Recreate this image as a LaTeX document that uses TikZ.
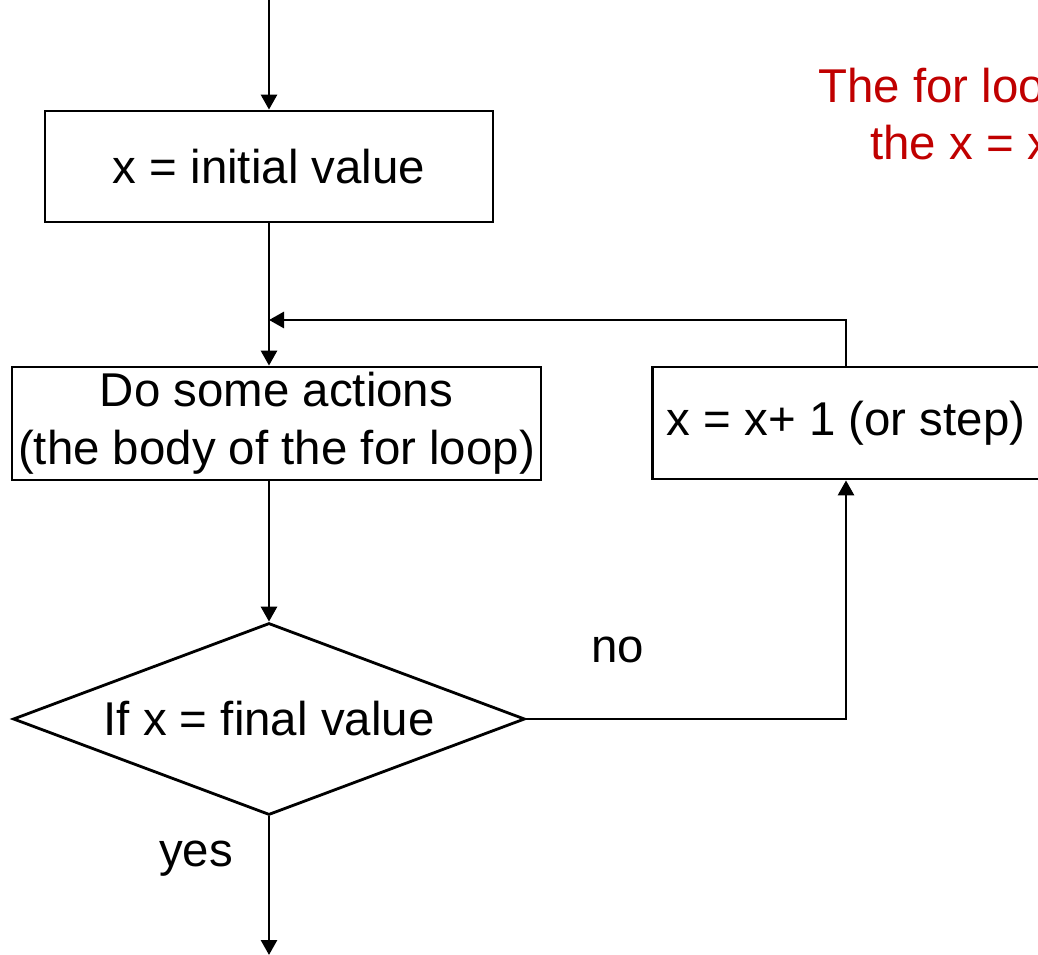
\documentclass[tikz,border=0pt]{standalone}
\usepackage{fontspec}
\setmainfont{Liberation Sans}
\usetikzlibrary{arrows.meta,shapes.geometric}
\definecolor{notered}{RGB}{192,0,0}
\begin{document}
\begin{tikzpicture}[x=0.02cm, y=-0.02cm,
		every node/.style={font=\fontsize{27}{33}\selectfont},
		box/.style={rectangle, draw=black, line width=1.6pt, inner sep=0pt, align=center},
		decision/.style={diamond, draw=black, line width=1.6pt, inner sep=0pt, aspect=2.67},
		arr/.style={line width=1.6pt, -{Triangle[width=0.32cm, length=0.3cm]}}]
	\useasboundingbox (0,0) rectangle (1038,955);

	% Boxes of the loop
	\node[box, minimum width=8.96cm, minimum height=2.22cm] (init) at (269,166.5) {x = initial value};
	\node[box, minimum width=10.58cm, minimum height=2.26cm] (body) at (276.5,423.5) {Do some actions\\(the body of the for loop)};
	\node[box, minimum width=7.74cm, minimum height=2.24cm] (incr) at (846,423) {x = x+ 1 (or step)};

	% Test
	\node[decision, minimum width=10.24cm, minimum height=3.84cm] (test) at (269,719) {If x = final value};

	% Free ends and join point
	\coordinate (start) at (269,0);
	\coordinate (stop) at (269,955);
	\coordinate (join) at (269,320);

	% Connections
	\draw[arr] (start) -- (init.north);
	\draw[arr] (init.south) -- (init.south |- body.north);
	\draw[arr] (incr.north) |- (join);
	\draw[arr] (init.south |- body.south) -- (test.north);
	\draw[arr] (test.east) -| (incr.south);
	\draw[arr] (test.south) -- (stop);

	% Labels
	\node (no) at (618,650) {no};
	\node (yes) at (196,859) {yes};

	% Note (runs past the right edge, as in the original)
	\node[anchor=base west, inner sep=0pt, text=notered] (note1) at (818,103) {The for loop};
	\node[anchor=base west, inner sep=0pt, text=notered] (note2) at (870,160) {the x = x};
\end{tikzpicture}
\end{document}
